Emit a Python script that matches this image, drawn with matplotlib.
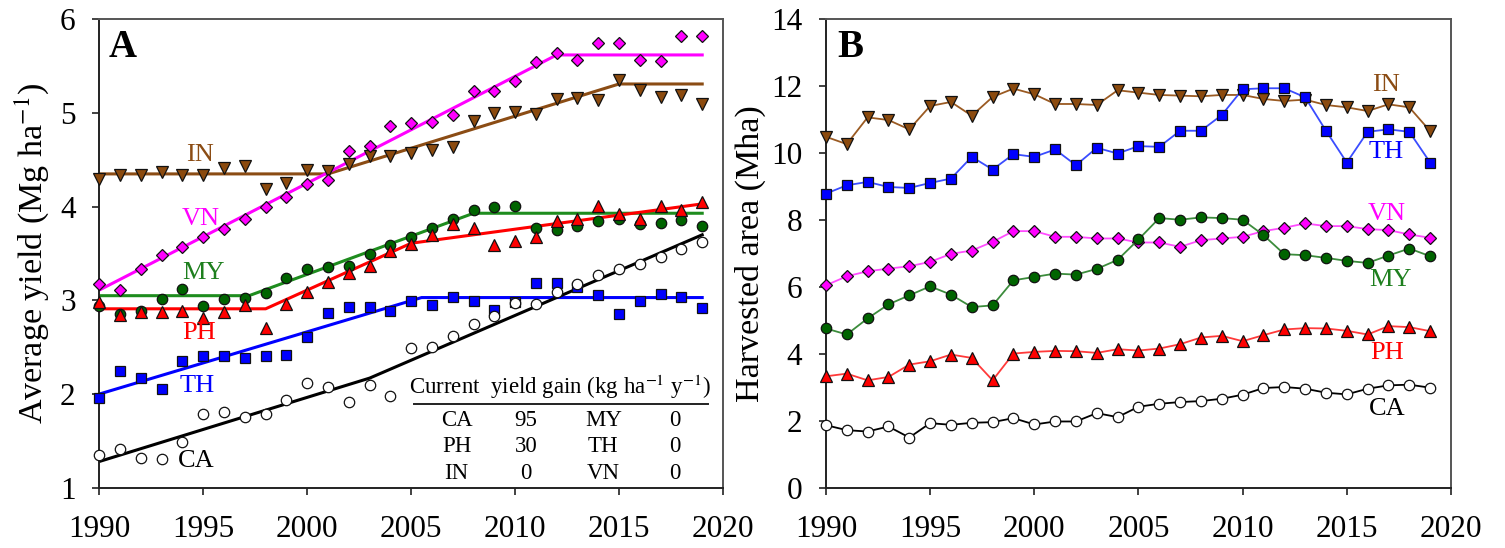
import numpy as np
import matplotlib
matplotlib.use('Agg')
import matplotlib.pyplot as plt

plt.rcParams['font.family'] = ['Liberation Serif', 'DejaVu Serif']
plt.rcParams['mathtext.fontset'] = 'stix'

years = np.arange(1990, 2020)

# panel A: average yield (Mg/ha)
yld_IN = [4.30, 4.34, 4.34, 4.37, 4.34, 4.34, 4.41, 4.43, 4.19, 4.25,
          4.39, 4.38, 4.46, 4.54, 4.54, 4.57, 4.60, 4.64, 4.91, 5.00,
          5.01, 4.99, 5.15, 5.16, 5.14, 5.35, 5.25, 5.17, 5.19, 5.10]
yld_VN = [3.18, 3.11, 3.33, 3.48, 3.57, 3.68, 3.76, 3.87, 4.00, 4.10,
          4.24, 4.28, 4.59, 4.65, 4.86, 4.89, 4.90, 4.98, 5.24, 5.24,
          5.34, 5.54, 5.64, 5.57, 5.75, 5.75, 5.57, 5.55, 5.82, 5.82]
yld_MY = [2.94, 2.85, 2.89, 3.01, 3.12, 2.94, 3.01, 3.03, 3.08, 3.24,
          3.33, 3.36, 3.37, 3.49, 3.59, 3.68, 3.77, 3.87, 3.97, 4.00,
          4.01, 3.77, 3.75, 3.79, 3.85, 3.87, 3.82, 3.83, 3.86, 3.79]
yld_PH = [2.98, 2.84, 2.88, 2.88, 2.89, 2.81, 2.88, 2.95, 2.71, 2.96,
          3.09, 3.20, 3.29, 3.37, 3.53, 3.60, 3.70, 3.81, 3.77, 3.59,
          3.63, 3.68, 3.85, 3.87, 4.01, 3.92, 3.87, 4.01, 3.97, 4.05]
yld_TH = [1.96, 2.25, 2.17, 2.05, 2.35, 2.41, 2.41, 2.38, 2.41, 2.42,
          2.61, 2.87, 2.93, 2.93, 2.89, 2.99, 2.95, 3.04, 2.99, 2.90,
          2.98, 3.19, 3.19, 3.14, 3.06, 2.85, 2.99, 3.07, 3.04, 2.92]
yld_CA = [1.35, 1.41, 1.32, 1.31, 1.49, 1.79, 1.81, 1.76, 1.79, 1.94,
          2.12, 2.08, 1.91, 2.10, 1.98, 2.49, 2.50, 2.62, 2.75, 2.83,
          2.97, 2.96, 3.09, 3.18, 3.27, 3.34, 3.39, 3.46, 3.55, 3.62]

# segmented fits (break years and values)
fit_IN = ([1990, 2001, 2015, 2019], [4.35, 4.35, 5.31, 5.31])
fit_VN = ([1990, 2012, 2019], [3.11, 5.62, 5.62])
fit_MY = ([1990, 1997.2, 2008, 2019], [3.05, 3.05, 3.93, 3.93])
fit_PH = ([1990, 1998, 2005, 2019], [2.91, 2.91, 3.61, 4.03])
fit_TH = ([1990, 2005.5, 2019], [2.00, 3.03, 3.03])
fit_CA = ([1990, 2003, 2019], [1.28, 2.17, 3.70])

# panel B: harvested area (Mha)
area_IN = [10.49, 10.27, 11.07, 10.99, 10.71, 11.41, 11.53, 11.12, 11.68, 11.93,
           11.76, 11.47, 11.47, 11.44, 11.88, 11.81, 11.74, 11.72, 11.70, 11.74,
           11.74, 11.62, 11.56, 11.60, 11.44, 11.37, 11.26, 11.46, 11.37, 10.66]
area_TH = [8.79, 9.04, 9.14, 8.99, 8.96, 9.11, 9.24, 9.89, 9.51, 9.97,
           9.89, 10.11, 9.64, 10.16, 9.99, 10.21, 10.19, 10.67, 10.67, 11.14,
           11.91, 11.94, 11.94, 11.67, 10.67, 9.72, 10.64, 10.71, 10.64, 9.72]
area_VN = [6.05, 6.32, 6.47, 6.55, 6.62, 6.75, 6.99, 7.09, 7.35, 7.67,
           7.67, 7.50, 7.50, 7.45, 7.45, 7.33, 7.33, 7.20, 7.40, 7.45,
           7.50, 7.67, 7.77, 7.90, 7.82, 7.82, 7.73, 7.70, 7.57, 7.47]
area_MY = [4.76, 4.58, 5.06, 5.48, 5.75, 6.02, 5.77, 5.40, 5.45, 6.20,
           6.30, 6.40, 6.37, 6.54, 6.81, 7.42, 8.06, 8.01, 8.08, 8.06,
           8.01, 7.55, 6.98, 6.95, 6.87, 6.78, 6.72, 6.94, 7.15, 6.92]
area_PH = [3.33, 3.41, 3.21, 3.31, 3.68, 3.78, 3.98, 3.88, 3.21, 4.01,
           4.06, 4.09, 4.08, 4.03, 4.14, 4.10, 4.16, 4.29, 4.49, 4.54,
           4.38, 4.56, 4.73, 4.77, 4.76, 4.69, 4.58, 4.83, 4.80, 4.68]
area_CA = [1.87, 1.72, 1.68, 1.83, 1.50, 1.93, 1.88, 1.94, 1.96, 2.08,
           1.89, 1.98, 1.98, 2.23, 2.11, 2.42, 2.51, 2.56, 2.59, 2.66,
           2.78, 2.98, 3.01, 2.96, 2.84, 2.79, 2.96, 3.06, 3.08, 2.99]

# current yield gain table
gain_left = ['CA', 'PH', 'IN']
gain_left_val = [95, 30, 0]
gain_right = ['MY', 'TH', 'VN']
gain_right_val = [0, 0, 0]

# name: (marker, face colour, line colour A, line colour B, ms)
style = {
    'IN': ('v', '#8B4A0E', '#8B4C14', '#9A5A22', 8.5),
    'VN': ('D', '#FF00FF', '#FF00FF', '#FF4CFF', 6.5),
    'MY': ('o', '#006400', '#1E8C1E', '#3C8C3C', 7.5),
    'PH': ('^', '#FF0000', '#FF0000', '#FF3A3A', 8),
    'TH': ('s', '#0000FF', '#0000FF', '#3A4CFF', 7),
    'CA': ('o', 'white', '#000000', '#000000', 7.5),
}
label_col = {'IN': '#8B4C14', 'VN': '#FF00FF', 'MY': '#1E7F1E',
             'PH': '#FF0000', 'TH': '#0000FF', 'CA': '#000000'}


def setup_axis(ax, ylo, yhi, ystep):
    ax.set_xlim(1990, 2020)
    ax.set_ylim(ylo, yhi)
    ax.set_xticks(range(1990, 2021, 5))
    ax.set_yticks(np.arange(ylo, yhi + 0.01, ystep))
    ax.tick_params(direction='out', length=5, width=1.3, labelsize=22.5,
                   color='#333333')
    ax.tick_params(axis='y', pad=12)
    ax.tick_params(axis='x', pad=15)
    for s in ['left', 'bottom']:
        ax.spines[s].set_color('#222222')
        ax.spines[s].set_linewidth(1.4)
    for s in ['top', 'right']:
        ax.spines[s].set_color('#555555')
        ax.spines[s].set_linewidth(1.4)


def main():
    fig = plt.figure(figsize=(15.05, 5.48), dpi=100)
    axA = fig.add_axes([0.066, 0.110, 0.4144, 0.8547])
    axB = fig.add_axes([0.5488, 0.110, 0.4153, 0.8547])

    # ---- panel A
    yA = {'IN': yld_IN, 'VN': yld_VN, 'MY': yld_MY, 'PH': yld_PH,
          'TH': yld_TH, 'CA': yld_CA}
    fits = {'IN': fit_IN, 'VN': fit_VN, 'MY': fit_MY, 'PH': fit_PH,
            'TH': fit_TH, 'CA': fit_CA}
    for k in ['IN', 'VN', 'MY', 'PH', 'TH', 'CA']:
        m, fc, lcA, lcB, ms = style[k]
        axA.plot(fits[k][0], fits[k][1], color=lcA, lw=2.2, zorder=2)
        axA.plot(years, yA[k], ls='none', marker=m, ms=ms, mfc=fc,
                 mec='#111111', mew=0.9, zorder=3, clip_on=False)

    labA = {'IN': (1994.85, 4.55), 'VN': (1994.9, 3.87), 'MY': (1995.0, 3.29),
            'PH': (1994.8, 2.65), 'TH': (1994.7, 2.09), 'CA': (1994.65, 1.28)}
    for k, (x, y) in labA.items():
        axA.text(x, y, k, color=label_col[k], fontsize=19, ha='center', va='center')

    setup_axis(axA, 1, 6, 1)
    axA.set_ylabel('Average yield (Mg ha$^{-1}$)', fontsize=24.5, labelpad=6)
    axA.text(0.037, 0.94, 'A', transform=axA.transAxes, fontsize=28,
             fontweight='bold', ha='center', va='center')

    # table of current yield gains
    axA.text(0.739, 0.215, 'Current  yield gain (kg ha$^{-1}$ y$^{-1}$)',
             transform=axA.transAxes, fontsize=16.5, ha='center', va='center')
    axA.plot([0.505, 0.976], [0.178, 0.178], transform=axA.transAxes,
             color='#222222', lw=1.4)
    rows_y = [0.1437, 0.0875, 0.0307]
    for i in range(3):
        axA.text(0.573, rows_y[i], gain_left[i], transform=axA.transAxes,
                 fontsize=16.5, ha='center', va='center')
        axA.text(0.684, rows_y[i], str(gain_left_val[i]), transform=axA.transAxes,
                 fontsize=16.5, ha='center', va='center')
        axA.text(0.808, rows_y[i], gain_right[i], transform=axA.transAxes,
                 fontsize=16.5, ha='center', va='center')
        axA.text(0.923, rows_y[i], str(gain_right_val[i]), transform=axA.transAxes,
                 fontsize=16.5, ha='center', va='center')

    # ---- panel B
    yB = {'IN': area_IN, 'TH': area_TH, 'VN': area_VN, 'MY': area_MY,
          'PH': area_PH, 'CA': area_CA}
    for k in ['IN', 'TH', 'VN', 'MY', 'PH', 'CA']:
        m, fc, lcA, lcB, ms = style[k]
        axB.plot(years, yB[k], color=lcB, lw=1.3, marker=m, ms=ms, mfc=fc,
                 mec='#111111', mew=0.9, zorder=3, clip_on=False)

    labB = {'IN': (2016.9, 12.03), 'TH': (2016.9, 10.04), 'VN': (2016.9, 8.17),
            'MY': (2017.1, 6.2), 'PH': (2016.95, 4.03), 'CA': (2016.95, 2.36)}
    for k, (x, y) in labB.items():
        axB.text(x, y, k, color=label_col[k], fontsize=19, ha='center', va='center')

    setup_axis(axB, 0, 14, 2)
    axB.set_ylabel('Harvested area (Mha)', fontsize=24.5, labelpad=4)
    axB.text(0.0395, 0.94, 'B', transform=axB.transAxes, fontsize=28,
             fontweight='bold', ha='center', va='center')

    fig.savefig('out.png', dpi=100)


if __name__ == '__main__':
    main()
